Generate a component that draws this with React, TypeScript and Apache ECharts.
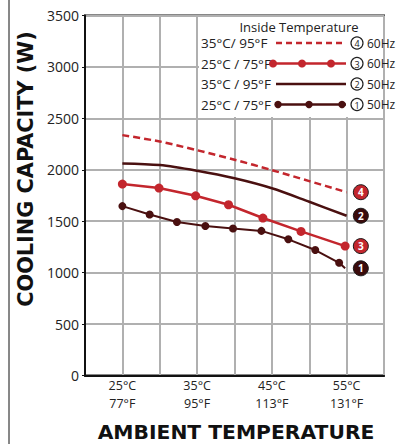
import React, { useEffect, useRef } from 'react';
import * as echarts from 'echarts';

// ---- data ----
const xTickValues = [25, 35, 45, 55];
const xTickLabelsC = ['25°C', '35°C', '45°C', '55°C'];
const xTickLabelsF = ['77°F', '95°F', '113°F', '131°F'];

// series 1: 25°C / 75°F 50Hz (dark, markers)
const s1X = [25, 28.65, 32.3, 36.1, 39.8, 43.6, 47.2, 50.8, 54.0, 54.8];
const s1Y = [1647, 1565, 1492, 1453, 1429, 1406, 1324, 1220, 1096, 1042];
// series 2: 35°C / 95°F 50Hz (dark, solid)
const s2X = [25, 30, 35, 40, 45, 50, 55];
const s2Y = [2062, 2046, 1990, 1917, 1820, 1689, 1553];
// series 3: 25°C / 75°F 60Hz (red, markers)
const s3X = [25, 29.9, 34.8, 39.2, 43.8, 48.9, 54.8];
const s3Y = [1861, 1822, 1747, 1660, 1531, 1401, 1258];
// series 4: 35°C / 95°F 60Hz (red, dashed)
const s4X = [25, 30, 35, 40, 45, 50, 55];
const s4Y = [2337, 2275, 2190, 2098, 1997, 1890, 1782];

const legendTitle = 'Inside Temperature';
const legendLabels = ['35°C/ 95°F', '25°C / 75°F', '35°C / 95°F', '25°C / 75°F'];
const legendNums = ['4', '3', '2', '1'];
const legendHz = ['60Hz', '60Hz', '50Hz', '50Hz'];
const yTitle = 'COOLING CAPACITY (W)';
const xTitle = 'AMBIENT TEMPERATURE';

const RED = '#c3262d';
const DARK = '#4a1010';
const BADGE_DARK = '#3a0b0b';
const FONT = '"Open Sans", sans-serif';
const BOLD_FONT = '"DejaVu Sans", sans-serif';

const badgeX = 56.9;

function pairs(xs: number[], ys: number[]) {
  return xs.map((x, i) => [x, ys[i]]);
}

function badge(num: string, y: number, fill: string) {
  return {
    symbol: 'circle',
    symbolSize: 15,
    silent: true,
    itemStyle: { color: fill, borderColor: '#1a1a1a', borderWidth: 1 },
    label: { show: true, formatter: num, color: '#fff', fontSize: 10, fontWeight: 'bold', fontFamily: FONT },
    data: [{ coord: [badgeX, y] }],
  };
}

export default function App() {
  const ref = useRef<HTMLDivElement>(null);
  useEffect(() => {
    if (!ref.current) return;
    const chart = echarts.init(ref.current, null, { renderer: 'svg' });

    const rowY = [43, 63.5, 84, 104.5];
    const legendEls: any[] = [];
    legendEls.push({
      type: 'rect', shape: { x: 199, y: 17, width: 184, height: 100 },
      style: { fill: '#fff' }, z: 10,
    });
    legendEls.push({
      type: 'text', x: 299, y: 27, z: 11,
      style: { text: legendTitle, fill: '#222', fontSize: 13, fontFamily: FONT, align: 'center', verticalAlign: 'middle', textAlign: 'center', textVerticalAlign: 'middle' },
    });
    legendLabels.forEach((lab, i) => {
      const y = rowY[i];
      legendEls.push({
        type: 'text', x: 201, y, z: 11,
        style: { text: lab, fill: '#222', fontSize: 13.5, fontFamily: FONT, align: 'left', verticalAlign: 'middle', textAlign: 'left', textVerticalAlign: 'middle' },
      });
      const color = i < 2 ? RED : DARK;
      legendEls.push({
        type: 'line', z: 11,
        shape: { x1: i === 1 ? 273 : 276, y1: y, x2: 346, y2: y },
        style: { stroke: color, lineWidth: 2.5, lineDash: i === 0 ? [6, 4] : null },
      });
      if (i === 1) {
        [273, 302, 331].forEach((cx) => legendEls.push({ type: 'circle', z: 12, shape: { cx, cy: y, r: 4 }, style: { fill: RED } }));
      }
      if (i === 3) {
        [278, 309, 342].forEach((cx) => legendEls.push({ type: 'circle', z: 12, shape: { cx, cy: y, r: 3.7 }, style: { fill: DARK } }));
      }
      legendEls.push({ type: 'circle', z: 11, shape: { cx: 357, cy: y, r: 6 }, style: { fill: '#fff', stroke: '#222', lineWidth: 1.2 } });
      legendEls.push({
        type: 'text', x: 357, y: y + 0.5, z: 12,
        style: { text: legendNums[i], fill: '#222', fontSize: 9, fontFamily: FONT, align: 'center', verticalAlign: 'middle', textAlign: 'center', textVerticalAlign: 'middle' },
      });
      legendEls.push({
        type: 'text', x: 367, y, z: 11,
        style: { text: legendHz[i], fill: '#222', fontSize: 12, fontFamily: FONT, align: 'left', verticalAlign: 'middle', textAlign: 'left', textVerticalAlign: 'middle' },
      });
    });

    const xLabel = (labels: string[]) => (v: number) => {
      const i = xTickValues.indexOf(v);
      return i >= 0 ? labels[i] : '';
    };

    const option: any = {
      animation: false,
      backgroundColor: '#fff',
      grid: { left: 85, right: 26, top: 15.5, bottom: 68.5, show: true, borderColor: '#111', borderWidth: 2, backgroundColor: 'transparent' },
      xAxis: [
        {
          type: 'value', min: 20, max: 60, interval: 5,
          axisLine: { show: true, lineStyle: { color: '#111', width: 2 } },
          axisTick: { show: false },
          splitLine: { show: true, lineStyle: { color: '#b0b0b0', width: 2 } },
          axisLabel: { margin: 3, color: '#222', fontSize: 12.5, lineHeight: 14, fontFamily: FONT, showMinLabel: true, showMaxLabel: true, formatter: xLabel(xTickLabelsC) },
        },
        {
          type: 'value', min: 20, max: 60, interval: 5, position: 'bottom',
          axisLine: { show: false }, axisTick: { show: false }, splitLine: { show: false },
          axisLabel: { margin: 20.5, color: '#222', fontSize: 12.5, lineHeight: 14, fontFamily: FONT, showMinLabel: true, showMaxLabel: true, formatter: xLabel(xTickLabelsF) },
        },
      ],
      yAxis: {
        type: 'value', min: 0, max: 3500, interval: 500,
        axisLine: { show: true, lineStyle: { color: '#111', width: 2 } },
        axisTick: { show: true, length: 3, lineStyle: { color: '#111', width: 1 } },
        splitLine: { show: true, lineStyle: { color: '#b0b0b0', width: 2 } },
        axisLabel: { margin: 6, color: '#222', fontSize: 14, fontFamily: FONT, formatter: (v: number) => String(v) },
      },
      series: [
        {
          type: 'line', name: '4', data: pairs(s4X, s4Y), smooth: 0.3, symbol: 'none',
          lineStyle: { color: RED, width: 2.5, type: [7, 4] }, z: 3,
          markPoint: badge('4', s4Y[s4Y.length - 1], RED),
        },
        {
          type: 'line', name: '2', data: pairs(s2X, s2Y), smooth: 0.3, symbol: 'none',
          lineStyle: { color: DARK, width: 2.5 }, z: 3,
          markPoint: badge('2', s2Y[s2Y.length - 1], BADGE_DARK),
        },
        {
          type: 'line', name: '3', data: pairs(s3X, s3Y), symbol: 'circle', symbolSize: 9,
          itemStyle: { color: RED }, lineStyle: { color: RED, width: 2.5 }, z: 4,
          markPoint: badge('3', s3Y[s3Y.length - 1], RED),
        },
        {
          type: 'line', name: '1',
          data: s1X.map((x, i) => (i === s1X.length - 1 ? { value: [x, s1Y[i]], symbol: 'none' } : [x, s1Y[i]])),
          symbol: 'circle', symbolSize: 8,
          itemStyle: { color: DARK }, lineStyle: { color: DARK, width: 2 }, z: 4,
          markPoint: badge('1', s1Y[s1Y.length - 1], BADGE_DARK),
        },
      ],
      graphic: [
        { type: 'line', shape: { x1: 9, y1: 0, x2: 9, y2: 444 }, style: { stroke: '#111', lineWidth: 1 } },
        {
          type: 'text', x: 26, y: 169, rotation: Math.PI / 2,
          style: { text: yTitle, fill: '#111', fontSize: 20.8, fontWeight: 'bold', fontFamily: BOLD_FONT, align: 'center', verticalAlign: 'middle', textAlign: 'center', textVerticalAlign: 'middle' },
        },
        {
          type: 'text', x: 236, y: 432,
          style: { text: xTitle, fill: '#111', fontSize: 20.3, fontWeight: 'bold', fontFamily: BOLD_FONT, align: 'center', verticalAlign: 'middle', textAlign: 'center', textVerticalAlign: 'middle' },
        },
        ...legendEls,
      ],
    };
    chart.setOption(option);
    return () => chart.dispose();
  }, []);
  return <div ref={ref} style={{ width: 410, height: 444, position: 'absolute', left: 0, top: 0 }} />;
}
